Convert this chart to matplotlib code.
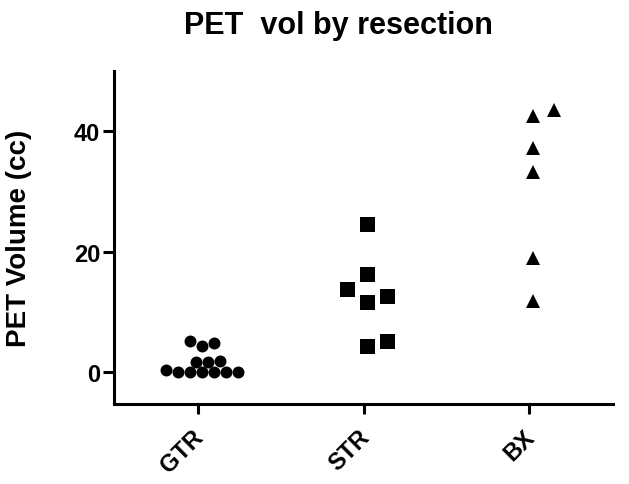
import numpy as np
import matplotlib
matplotlib.use("Agg")
from matplotlib import pyplot as plt
from matplotlib import transforms

plt.rcParams['font.family'] = ['Liberation Sans', 'DejaVu Sans']
plt.rcParams['font.weight'] = 'bold'

categories = ["GTR", "STR", "BX"]
gtr = [0.1, 1.8, 4.85, 0.0, 0.4, 4.4, 1.9, 0.0, 0.1, 5.2, 0.0, 1.8, 0.0]
strr = [24.55, 16.4, 12.7, 13.8, 11.7, 4.3, 5.2]
bx = [42.5, 43.6, 37.2, 33.3, 18.9, 11.8]
groups = [gtr, strr, bx]

markers = ['o', 's', '^']
msizes = [8.6, 10.8, 10.0]      # points
steps = [12.0, 20.0, 21.0]      # horizontal spacing, px
heights = [12.0, 15.0, 12.0]    # collision height, px


def swarm_offsets(yvals_px, step, height, round_marker):
    # greedy dodge: try 0, +d, -d, +2d ... until it no longer overlaps
    d = step / 2 if round_marker else step
    order = np.argsort(yvals_px, kind='stable')
    placed = []
    offs = np.zeros(len(yvals_px))
    for i in order:
        y = yvals_px[i]
        k = 0
        while True:
            n = (k + 1) // 2
            x = n * d if k % 2 == 1 else -n * d
            if round_marker:
                ok = all(np.hypot(x - px, y - py) >= step * 0.92 for px, py in placed)
            else:
                ok = all(not (abs(x - px) < step * 0.95 and abs(y - py) < height)
                         for px, py in placed)
            if ok:
                break
            k += 1
        placed.append((x, y))
        offs[i] = x
    return offs


fig = plt.figure(figsize=(6.29, 4.85), dpi=100)
ax = fig.add_axes([114 / 629, 1 - 405 / 485, 499 / 629, 333 / 485])
ax.set_xlim(-0.506, 2.506)
ax.set_ylim(-5.25, 50)
fig.canvas.draw()

inv = ax.transData.inverted()
for i, vals in enumerate(groups):
    vals = np.asarray(vals, dtype=float)
    disp = ax.transData.transform(np.column_stack([np.full(len(vals), i), vals]))
    offs = swarm_offsets(disp[:, 1], steps[i], heights[i], markers[i] == 'o')
    disp[:, 0] += offs + 4
    data = inv.transform(disp)
    ax.plot(data[:, 0], data[:, 1], linestyle='none', marker=markers[i],
            markersize=msizes[i], color='black', markeredgewidth=0,
            clip_on=False, zorder=3)

for side in ['top', 'right']:
    ax.spines[side].set_visible(False)
for side in ['left', 'bottom']:
    ax.spines[side].set_linewidth(2.2)

ax.set_yticks([0, 20, 40])
ax.set_xticks(range(len(categories)))
ax.set_xticklabels(categories, rotation=45, ha='right', rotation_mode='anchor')
ax.tick_params(axis='both', direction='out', width=2.2, labelsize=17)
ax.tick_params(axis='y', length=8, pad=2)
ax.tick_params(axis='x', length=7, pad=8)
shift = transforms.ScaledTranslation(-0.06, 0, fig.dpi_scale_trans)
for lab in ax.get_xticklabels():
    lab.set_fontweight('bold')
    lab.set_transform(lab.get_transform() + shift)
for lab in ax.get_yticklabels():
    lab.set_fontweight('bold')

ax.set_ylabel("PET Volume (cc)", fontsize=20, fontweight='bold', labelpad=30)
fig.suptitle("PET  vol by resection", fontsize=22, fontweight='bold',
             x=0.538, y=0.978)

fig.savefig("out.png", dpi=100)
